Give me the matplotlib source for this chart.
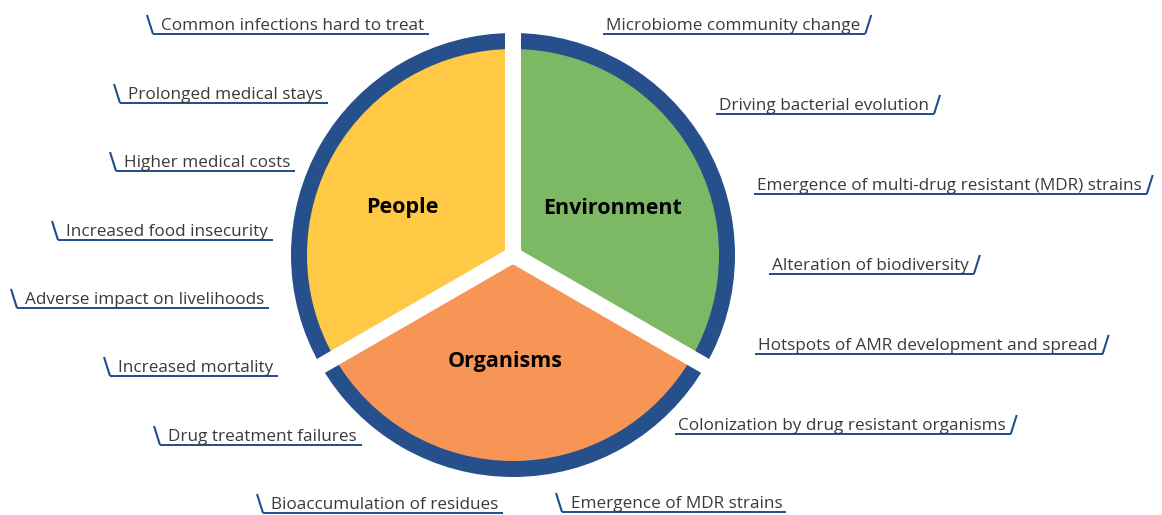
import matplotlib
matplotlib.use("Agg")
import matplotlib.pyplot as plt
from matplotlib.patches import Circle
import numpy as np

# ---------------- data ----------------
categories = ["People", "Organisms", "Environment"]
shares = [1, 1, 1]
slice_colors = ["#FFC845", "#F79556", "#7DB965"]
ring_color = "#26508C"

left_labels = [
    "Common infections hard to treat",
    "Prolonged medical stays",
    "Higher medical costs",
    "Increased food insecurity",
    "Adverse impact on livelihoods",
    "Increased mortality",
    "Drug treatment failures",
    "Bioaccumulation of residues",
]
right_labels = [
    "Microbiome community change",
    "Driving bacterial evolution",
    "Emergence of multi-drug resistant (MDR) strains",
    "Alteration of biodiversity",
    "Hotspots of AMR development and spread",
    "Colonization by drug resistant organisms",
    "Emergence of MDR strains",
]

# ---------------- layout (pixels, top-left origin) ----------------
W, H = 1162, 515
left_pos = [(161, 30), (128, 99), (124, 167), (66, 236), (25, 304),
            (118, 372), (168, 441), (271, 509)]
right_pos = [(606, 30), (719, 110), (757, 190), (772, 270), (758, 350),
             (678, 430), (571, 508)]
right_slash_left = [False, False, False, False, False, False, True]
center_label_pos = {"People": (402, 208), "Environment": (613, 208), "Organisms": (505, 362)}

cx, cy = 513, 255
R_out, R_in = 222, 206
gap_px = 16

fig = plt.figure(figsize=(W / 100, H / 100), dpi=100)
ax = fig.add_axes([0, 0, 1, 1])

def Y(y):
    return H - y

# pie: outer ring then coloured slices
ax.pie(shares, colors=[ring_color] * 3, startangle=90, counterclock=True,
       radius=R_out, center=(cx, Y(cy)), frame=True)
ax.pie(shares, colors=slice_colors, startangle=90, counterclock=True,
       radius=R_in, center=(cx, Y(cy)), frame=True)
ax.set_xlim(0, W)
ax.set_ylim(0, H)
ax.set_aspect("equal")
ax.axis("off")

# white gaps between slices
lw_pt = gap_px * 72 / 100
for ang in [90, 210, 330]:
    a = np.deg2rad(ang)
    ax.plot([cx, cx + 260 * np.cos(a)], [Y(cy), Y(cy) + 260 * np.sin(a)],
            color="white", lw=lw_pt, solid_capstyle="butt", zorder=5)
ax.add_patch(Circle((cx, Y(cy)), gap_px / 2 + 1, color="white", zorder=5))

for name, (x, y) in center_label_pos.items():
    ax.text(x, Y(y), name, ha="center", va="center", fontsize=15.5,
            fontweight="bold", family="Open Sans", color="black", zorder=6)

text_color = "#3a3a3a"
line_color = "#1F4E8C"
fs = 12.3
fig.canvas.draw()
renderer = fig.canvas.get_renderer()

def text_width(t):
    return t.get_window_extent(renderer=renderer).width

for lab, (x, yb) in zip(left_labels, left_pos):
    t = ax.text(x, Y(yb), lab, ha="left", va="baseline", fontsize=fs,
                family="Open Sans", color=text_color, zorder=6)
    w = text_width(t)
    yu = yb + 4
    ax.plot([x - 14, x - 8], [Y(yb - 15), Y(yu)], color=line_color, lw=1.5,
            solid_capstyle="butt")
    ax.plot([x - 8, x + w + 5], [Y(yu), Y(yu)], color=line_color, lw=1.4,
            solid_capstyle="butt")

for lab, (x, yb), sl in zip(right_labels, right_pos, right_slash_left):
    t = ax.text(x, Y(yb), lab, ha="left", va="baseline", fontsize=fs,
                family="Open Sans", color=text_color, zorder=6)
    w = text_width(t)
    yu = yb + 4
    if sl:
        ax.plot([x - 15, x - 9], [Y(yb - 15), Y(yu)], color=line_color, lw=1.5,
                solid_capstyle="butt")
        ax.plot([x - 9, x + w + 3], [Y(yu), Y(yu)], color=line_color, lw=1.4,
                solid_capstyle="butt")
    else:
        xe = x + w + 5
        ax.plot([x - 3, xe], [Y(yu), Y(yu)], color=line_color, lw=1.4,
                solid_capstyle="butt")
        ax.plot([xe, xe + 6], [Y(yu), Y(yb - 15)], color=line_color, lw=1.5,
                solid_capstyle="butt")

fig.savefig("out.png", dpi=100)
